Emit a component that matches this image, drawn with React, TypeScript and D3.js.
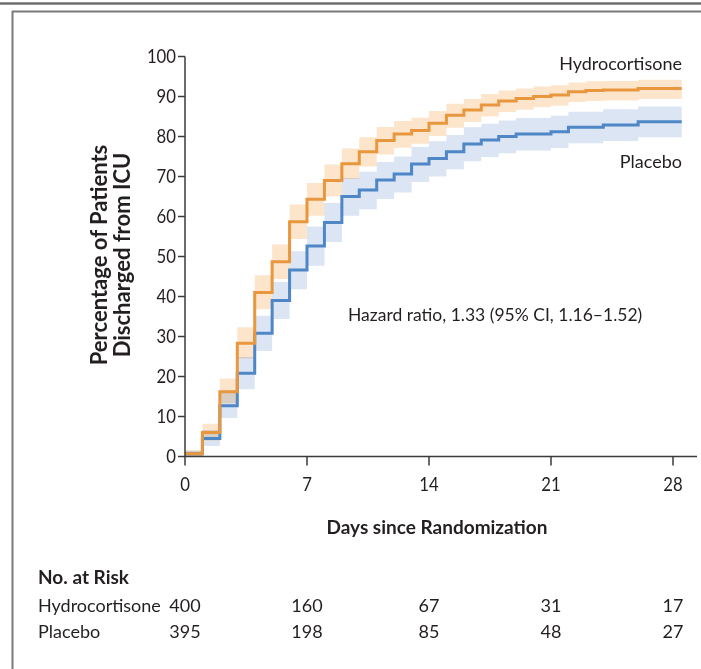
import React from "react";
import * as d3 from "d3";

const days = [0,1,2,3,4,5,6,7,8,9,10,11,12,13,14,15,16,17,18,19,20,21,22,23,24,25,26,27,28];
const hydroEst = [0.7,6.0,16.2,28.3,41.0,48.7,58.7,64.3,69.0,73.2,76.2,79.0,80.6,81.5,83.3,85.3,86.6,87.9,88.9,89.5,90.0,90.4,91.2,91.5,91.6,91.6,92.0,92.0,92.0];
const hydroLow = [0,4.0,13.3,24.5,36.8,44.4,54.4,60.2,65.0,69.4,72.5,75.5,77.2,78.2,80.1,82.2,83.6,85.0,86.1,86.7,87.3,87.7,88.6,88.9,89.0,89.0,89.4,89.4,89.4];
const hydroHigh = [1.5,8.2,19.5,32.3,45.3,53.0,63.0,68.4,73.0,77.0,79.8,82.4,83.9,84.7,86.4,88.2,89.4,90.6,91.5,92.0,92.5,92.8,93.5,93.8,93.9,93.9,94.2,94.2,94.2];
const placEst = [0.7,4.5,12.7,20.8,30.8,39.0,46.6,52.6,58.5,65.0,66.6,69.1,70.6,73.1,74.5,76.2,78.1,79.1,80.0,80.6,80.6,81.2,82.3,82.3,82.9,82.9,83.7,83.7,83.7];
const placLow = [0,2.6,9.6,16.8,26.4,34.4,41.8,47.7,53.6,60.2,61.8,64.4,66.0,68.6,70.0,71.8,73.8,74.9,75.8,76.5,76.5,77.1,78.3,78.3,78.9,78.9,79.8,79.8,79.8];
const placHigh = [1.5,6.6,16.0,24.9,35.2,43.6,51.3,57.5,63.4,69.6,71.2,73.6,75.0,77.4,78.8,80.4,82.3,83.2,84.0,84.6,84.6,85.2,86.2,86.2,86.8,86.8,87.5,87.5,87.5];
const endDay = 28.5;

const xTicks = [0, 7, 14, 21, 28];
const yTicks = [0, 10, 20, 30, 40, 50, 60, 70, 80, 90, 100];
const riskDays = [0, 7, 14, 21, 28];
const riskHydro = [400, 160, 67, 31, 17];
const riskPlac = [395, 198, 85, 48, 27];

const FONT = "Lato, 'Open Sans', sans-serif";
const TXT = "#231f20";

export default function App() {
  const x = d3.scaleLinear().domain([0, 28]).range([185, 673]);
  const y = d3.scaleLinear().domain([0, 100]).range([456.5, 56.5]);

  const mk = (est: number[], lo: number[], hi: number[]) => {
    const pts = days.map((d, i) => ({ d, e: est[i], l: lo[i], h: hi[i] }));
    const last = pts[pts.length - 1];
    pts.push({ d: endDay, e: last.e, l: last.l, h: last.h });
    return pts;
  };
  const hydro = mk(hydroEst, hydroLow, hydroHigh);
  const plac = mk(placEst, placLow, placHigh);

  const line = d3.line<any>().x((p) => x(p.d)).y((p) => y(p.e)).curve(d3.curveStepAfter);
  const area = d3.area<any>().x((p) => x(p.d)).y0((p) => y(p.l)).y1((p) => y(p.h)).curve(d3.curveStepAfter);

  const axisColor = "#3a3a3a";

  return (
    <svg width={701} height={669} style={{ position: "absolute", left: 0, top: 0, background: "#fff" }} fontFamily={FONT}>
      {/* frame */}
      <line x1={0} x2={701} y1={3.5} y2={3.5} stroke="#6e6e6e" strokeWidth={2.5} />
      <line x1={12} x2={701} y1={11.5} y2={11.5} stroke="#7a7a7a" strokeWidth={2} />
      <line x1={12.5} x2={12.5} y1={11} y2={669} stroke="#7a7a7a" strokeWidth={2} />

      {/* bands */}
      <path d={area(hydro) || ""} fill="#fce5cb" />
      <path d={area(plac) || ""} fill="#dbe5f4" style={{ mixBlendMode: "multiply" }} />

      {/* lines */}
      <path d={line(plac) || ""} fill="none" stroke="#4f86c6" strokeWidth={3} />
      <path d={line(hydro) || ""} fill="none" stroke="#e8973e" strokeWidth={3} />

      {/* y axis */}
      <line x1={x(0)} x2={x(0)} y1={y(100)} y2={y(0)} stroke={axisColor} strokeWidth={1.5} />
      {yTicks.map((t) => (
        <g key={t}>
          <line x1={x(0) - 7} x2={x(0)} y1={y(t)} y2={y(t)} stroke={axisColor} strokeWidth={1.5} />
          <text x={x(0) - 9} y={y(t)} dy="0.35em" textAnchor="end" fontSize={19} fill={TXT}
            transform={`translate(${x(0) - 9},0) scale(0.88,1) translate(${-(x(0) - 9)},0)`}>{t}</text>
        </g>
      ))}
      {/* x axis */}
      <line x1={x(0)} x2={697} y1={y(0)} y2={y(0)} stroke={axisColor} strokeWidth={1.5} />
      {xTicks.map((t) => (
        <g key={t}>
          <line x1={x(t)} x2={x(t)} y1={y(0)} y2={y(0) + 9} stroke={axisColor} strokeWidth={1.5} />
          <text x={x(t)} y={491} textAnchor="middle" fontSize={19} fill={TXT}
            transform={`translate(${x(t)},0) scale(0.88,1) translate(${-x(t)},0)`}>{t}</text>
        </g>
      ))}

      {/* axis titles */}
      <text x={437} y={534} textAnchor="middle" fontSize={19} fontWeight={700} fill={TXT}>Days since Randomization</text>
      <g transform="translate(107,255) rotate(-90)">
        <text x={0} y={0} textAnchor="middle" fontSize={22} fontWeight={700} fill={TXT}>Percentage of Patients</text>
        <text x={0} y={23} textAnchor="middle" fontSize={22} fontWeight={700} fill={TXT}>Discharged from ICU</text>
      </g>

      {/* series labels */}
      <text x={682} y={70} textAnchor="end" fontSize={18} fill={TXT}>Hydrocortisone</text>
      <text x={682} y={168} textAnchor="end" fontSize={18} fill={TXT}>Placebo</text>

      <text x={348} y={321} fontSize={17.5} fill={TXT}>Hazard ratio, 1.33 (95% CI, 1.16–1.52)</text>

      {/* risk table */}
      <text x={38} y={584} fontSize={19} fontWeight={700} fill={TXT}>No. at Risk</text>
      <text x={38} y={612} fontSize={18} fill={TXT}>Hydrocortisone</text>
      <text x={38} y={638} fontSize={18} fill={TXT}>Placebo</text>
      {riskDays.map((d, i) => (
        <g key={d}>
          <text x={x(d)} y={612} textAnchor="middle" fontSize={18} fill={TXT}>{riskHydro[i]}</text>
          <text x={x(d)} y={638} textAnchor="middle" fontSize={18} fill={TXT}>{riskPlac[i]}</text>
        </g>
      ))}
    </svg>
  );
}
